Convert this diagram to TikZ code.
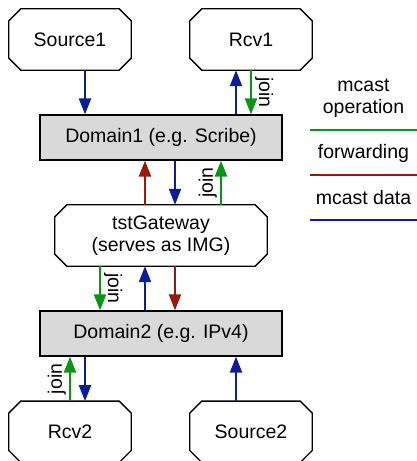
\documentclass[tikz,border=0pt]{standalone}
\usepackage{fontspec}
\setmainfont{Liberation Sans}
\usetikzlibrary{arrows.meta}
\definecolor{opgreen}{RGB}{10,150,20}
\definecolor{fwdred}{RGB}{150,25,10}
\definecolor{datablue}{RGB}{10,30,155}
\definecolor{domgray}{RGB}{217,217,217}
\newcommand{\octoline}[1]{%
  \draw[line width=1.3pt, line join=miter]
    ([xshift=12pt]#1.north west) -- ([xshift=-12pt]#1.north east)
    -- ([yshift=-12pt]#1.north east) -- ([yshift=12pt]#1.south east)
    -- ([xshift=-12pt]#1.south east) -- ([xshift=12pt]#1.south west)
    -- ([yshift=12pt]#1.south west) -- ([yshift=-12pt]#1.north west) -- cycle;}
\begin{document}
\begin{tikzpicture}[x=1pt,y=-1pt,
  every node/.style={font=\fontsize{19.5}{22.5}\selectfont},
  endpt/.style={rectangle, minimum width=122pt, minimum height=61pt,
    inner sep=0pt, align=center},
  dombox/.style={draw, line width=1.3pt, fill=domgray, rectangle,
    minimum width=242pt, minimum height=45pt, inner sep=0pt},
  flowline/.style={line width=2.2pt, -{Triangle[width=12pt,length=16pt]}},
  dataflow/.style={flowline, datablue},
  fwdflow/.style={flowline, fwdred},
  operflow/.style={flowline, opgreen},
  joinlbl/.style={midway, anchor=south, inner sep=3pt, text=black},
  legline/.style={line width=2.6pt}
]
\useasboundingbox (0,0) rectangle (417,461);

% nodes
\node[endpt] (src1) at (70,39.5) {Source1};
\node[endpt] (rcv1) at (251,39.5) {Rcv1};
\node[dombox] (d1) at (161,137.5) {Domain1 (e.g. Scribe)};
\node[endpt, minimum width=212pt] (gw) at (161,235.5) {tstGateway\\(serves as IMG)};
\node[dombox] (d2) at (161,333.5) {Domain2 (e.g. IPv4)};
\node[endpt] (rcv2) at (70,431.8) {Rcv2};
\node[endpt] (src2) at (251,431.8) {Source2};
\octoline{src1}
\octoline{rcv1}
\octoline{gw}
\octoline{rcv2}
\octoline{src2}

% x positions of connectors
\coordinate (xa) at (70,0);
\coordinate (xb) at (85,0);
\coordinate (xc) at (100,0);
\coordinate (xd) at (145,0);
\coordinate (xe) at (175,0);
\coordinate (xf) at (221,0);
\coordinate (xg) at (236,0);
\coordinate (xh) at (251,0);

% Source1 / Rcv1 <-> Domain1
\draw[dataflow] (src1.south -| xb) -- (d1.north -| xb);
\draw[dataflow] (d1.north -| xg) -- (rcv1.south -| xg);
\draw[operflow] (rcv1.south -| xh) -- node[joinlbl, rotate=-90] {join} (d1.north -| xh);

% Domain1 <-> tstGateway
\draw[fwdflow] (gw.north -| xd) -- (d1.south -| xd);
\draw[dataflow] (d1.south -| xe) -- (gw.north -| xe);
\draw[operflow] (gw.north -| xf) -- node[joinlbl, rotate=90] {join} (d1.south -| xf);

% tstGateway <-> Domain2
\draw[operflow] (gw.south -| xc) -- node[joinlbl, rotate=-90] {join} (d2.north -| xc);
\draw[dataflow] (d2.north -| xd) -- (gw.south -| xd);
\draw[fwdflow] (gw.south -| xe) -- (d2.north -| xe);

% Domain2 <-> Rcv2 / Source2
\draw[operflow] (rcv2.north -| xa) -- node[joinlbl, rotate=90] {join} (d2.south -| xa);
\draw[dataflow] (d2.south -| xb) -- (rcv2.north -| xb);
\draw[dataflow] (src2.north -| xg) -- (d2.south -| xg);

% legend
\node[align=center] (lop) at (363.5,98) {mcast\\operation};
\coordinate (l1a) at (310,130);
\coordinate (l1b) at (417,130);
\draw[legline, opgreen] (l1a) -- (l1b);
\node (lfw) at (363.5,153) {forwarding};
\coordinate (l2a) at (310,175);
\coordinate (l2b) at (417,175);
\draw[legline, fwdred] (l2a) -- (l2b);
\node (lda) at (363.5,198) {mcast data};
\coordinate (l3a) at (310,220);
\coordinate (l3b) at (417,220);
\draw[legline, datablue] (l3a) -- (l3b);
\end{tikzpicture}
\end{document}
